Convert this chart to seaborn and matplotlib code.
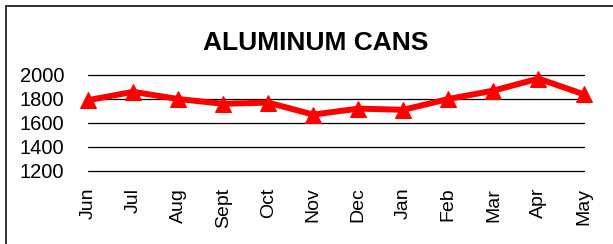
import matplotlib
matplotlib.use("Agg")
import matplotlib.pyplot as plt
import seaborn as sns
import pandas as pd
from matplotlib.patches import Rectangle

months = ["Jun", "Jul", "Aug", "Sept", "Oct", "Nov", "Dec", "Jan", "Feb", "Mar", "Apr", "May"]
cans = [1790, 1860, 1800, 1760, 1770, 1670, 1720, 1710, 1800, 1870, 1970, 1840]
yticks = [1200, 1400, 1600, 1800, 2000]

sns.set_style("white")
plt.rcParams['font.family'] = ['Liberation Sans', 'DejaVu Sans']
plt.rcParams['text.color'] = 'black'

df = pd.DataFrame({"pos": range(len(months)), "cans": cans})

fig = plt.figure(figsize=(6.13, 2.44), dpi=100)
ax = fig.add_axes([88/613, 1-171/244, (583.5-88)/613, (171-75)/244])

for y in yticks:
    ax.axhline(y, color="black", lw=0.9, zorder=1, clip_on=False)

sns.lineplot(data=df, x="pos", y="cans", ax=ax, color="#ff0000", lw=4.3,
             marker="^", markersize=11, markeredgecolor="#ff0000",
             markerfacecolor="#ff0000", clip_on=False, zorder=3)

ax.set_xlim(0, len(months) - 1)
ax.set_ylim(1200, 2000)
ax.set_yticks(yticks)
ax.set_yticklabels([str(v) for v in yticks], fontsize=14.5, color="black")
ax.set_xticks(range(len(months)))
ax.set_xticklabels(months, rotation=90, fontsize=14, color="black")
ax.tick_params(axis="x", length=0, pad=12)
ax.tick_params(axis="y", length=0, pad=17)
ax.set_xlabel("")
ax.set_ylabel("")
for s in ax.spines.values():
    s.set_visible(False)

fig.text(316/613, 1-43/244, "ALUMINUM CANS", ha="center", va="center",
         fontsize=19, fontweight="bold", color="black")

fig.patches.append(Rectangle((6/613, -0.1), 1.2, 1 - 6/244 + 0.1,
                             transform=fig.transFigure, fill=False,
                             edgecolor="#222222", lw=1.3, zorder=0))

fig.savefig("out.png", dpi=100)
